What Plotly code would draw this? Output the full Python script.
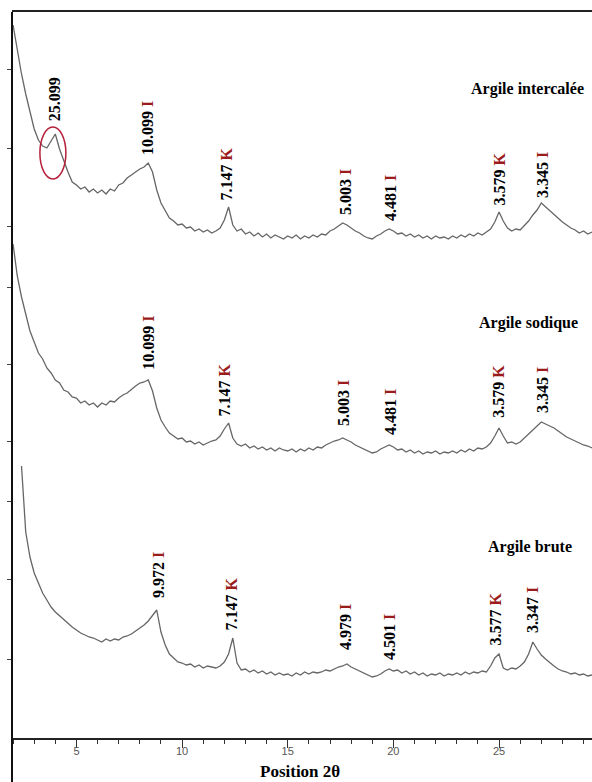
import plotly.graph_objects as go

# 2-theta sampling positions (degrees)
TWO_THETA = [
    2.0, 2.2, 2.4, 2.6, 2.8, 3.0, 3.2, 3.4, 3.6, 3.8, 4.0, 4.2, 4.4, 4.6, 4.8,
    5.0, 5.2, 5.4, 5.6, 5.8, 6.0, 6.2, 6.4, 6.6, 6.8, 7.0, 7.2, 7.4, 7.6, 7.8,
    8.0, 8.2, 8.4, 8.6, 8.8, 9.0, 9.2, 9.4, 9.6, 9.8, 10.0, 10.2, 10.4, 10.6, 10.8,
    11.0, 11.2, 11.4, 11.6, 11.8, 12.0, 12.2, 12.4, 12.6, 12.8, 13.0, 13.2, 13.4, 13.6, 13.8,
    14.0, 14.2, 14.4, 14.6, 14.8, 15.0, 15.2, 15.4, 15.6, 15.8, 16.0, 16.2, 16.4, 16.6, 16.8,
    17.0, 17.2, 17.4, 17.6, 17.8, 18.0, 18.2, 18.4, 18.6, 18.8, 19.0, 19.2, 19.4, 19.6, 19.8,
    20.0, 20.2, 20.4, 20.6, 20.8, 21.0, 21.2, 21.4, 21.6, 21.8, 22.0, 22.2, 22.4, 22.6, 22.8,
    23.0, 23.2, 23.4, 23.6, 23.8, 24.0, 24.2, 24.4, 24.6, 24.8, 25.0, 25.2, 25.4, 25.6, 25.8,
    26.0, 26.2, 26.4, 26.6, 26.8, 27.0, 27.2, 27.4, 27.6, 27.8, 28.0, 28.2, 28.4, 28.6, 28.8,
    29.0, 29.2, 29.4,
]

# intensities (arbitrary, stacked offsets)
INTERCALEE = [
    713, 688, 664, 644, 625,
    609, 598, 592, 590, 597,
    604, 589, 577, 566, 556,
    553, 549, 551, 546, 549,
    545, 548, 544, 549, 547,
    553, 555, 560, 563, 566,
    569, 571, 575, 566, 548,
    535, 527, 520, 517, 513,
    514, 510, 511, 507, 509,
    506, 508, 505, 507, 510,
    518, 531, 513, 507, 509,
    504, 506, 502, 505, 501,
    504, 500, 503, 501, 499,
    502, 500, 503, 499, 502,
    500, 503, 501, 504, 503,
    507, 509, 512, 515, 513,
    510, 507, 505, 502, 500,
    499, 502, 504, 507, 509,
    507, 504, 505, 502, 504,
    501, 503, 500, 502, 499,
    502, 500, 501, 499, 502,
    500, 503, 501, 504, 502,
    505, 503, 506, 509, 516,
    526, 517, 510, 507, 509,
    508, 512, 517, 523, 528,
    535, 531, 527, 524, 520,
    516, 513, 510, 508, 505,
    507, 504, 506,
]

SODIQUE = [
    494, 462, 441, 423, 407,
    396, 385, 379, 370, 365,
    358, 355, 348, 346, 341,
    340, 335, 337, 333, 335,
    331, 335, 333, 337, 336,
    340, 343, 345, 349, 352,
    355, 356, 358, 347, 330,
    318, 311, 305, 302, 299,
    300, 296, 297, 294, 296,
    293, 295, 297, 298, 302,
    309, 315, 300, 294, 292,
    294, 290, 292, 289, 291,
    288, 290, 287, 290, 288,
    287, 289, 286, 289, 287,
    290, 288, 291, 290, 293,
    295, 297, 298, 300, 298,
    296, 293, 291, 289, 287,
    285, 286, 289, 291, 293,
    291, 288, 289, 286, 288,
    285, 287, 284, 286, 285,
    287, 284, 286, 285, 287,
    285, 288, 286, 289, 287,
    290, 289, 291, 295, 302,
    310, 302, 295, 296, 294,
    296, 300, 305, 309, 313,
    316, 314, 312, 310, 307,
    304, 301, 299, 297, 295,
    293, 292, 290,
]

# raw clay pattern starts at 2.4 deg
BRUTE = [
    272, 206, 181,
    165, 155, 145, 138, 131,
    126, 122, 118, 115, 111,
    108, 105, 103, 101, 100,
    98, 96, 99, 97, 99,
    98, 101, 102, 104, 107,
    110, 113, 117, 122, 128,
    106, 93, 84, 80, 76,
    75, 73, 74, 71, 73,
    70, 72, 71, 70, 72,
    76, 84, 100, 75, 68,
    69, 66, 68, 65, 67,
    64, 66, 63, 65, 63,
    64, 62, 65, 63, 66,
    64, 66, 65, 66, 68,
    67, 69, 71, 72, 74,
    71, 69, 67, 65, 63,
    61, 62, 64, 67, 69,
    67, 68, 65, 67, 64,
    66, 63, 65, 62, 64,
    63, 65, 62, 64, 63,
    65, 63, 66, 64, 66,
    65, 67, 66, 72, 80,
    84, 70, 68, 70, 69,
    72, 76, 84, 96, 89,
    83, 79, 75, 72, 69,
    67, 66, 64, 65, 63,
    64, 62, 63,
]
BRUTE_START = 2

# peak labels: d-spacing (Å), phase (I = illite, K = kaolinite), position, label base
TOP_D = ["25.099", "10.099", "7.147", "5.003", "4.481", "3.579", "3.345"]
TOP_PHASE = ["", "I", "K", "I", "I", "K", "I"]
TOP_X = [3.95, 8.34, 12.12, 17.71, 19.84, 25.04, 27.03]
TOP_Y = [615, 581, 536, 521, 515, 531, 538]

MID_D = ["10.099", "7.147", "5.003", "4.481", "3.579", "3.345"]
MID_PHASE = ["I", "K", "I", "I", "K", "I"]
MID_X = [8.38, 12.03, 17.62, 19.84, 24.96, 27.03]
MID_Y = [366, 320, 310, 301, 318, 323]

BOT_D = ["9.972", "7.147", "4.979", "4.501", "3.577", "3.347"]
BOT_PHASE = ["I", "K", "I", "I", "K", "I"]
BOT_X = [8.86, 12.36, 17.71, 19.79, 24.81, 26.56]
BOT_Y = [138, 106, 86, 76, 90, 103]

SAMPLE_NAMES = ["Argile intercalée", "Argile sodique", "Argile brute"]
SAMPLE_X = [26.34, 26.39, 26.48]
SAMPLE_Y = [649, 415, 191]

# highlight ellipse around the 25.099 Å reflection
ELLIPSE_X = [3.27, 4.50]
ELLIPSE_Y = [559, 611]

Y_TICKS = [669, 590, 512, 451, 374, 297, 237, 159, 79]

X_RANGE = [1.95, 29.40]
Y_RANGE = [0, 726]

LINE_COLOR = "#666666"
PHASE_COLOR = "#9B1B1B"
SERIF = "Liberation Serif, Times New Roman, serif"

fig = go.Figure()
for xs, ys in [
    (TWO_THETA, INTERCALEE),
    (TWO_THETA, SODIQUE),
    (TWO_THETA[BRUTE_START:], BRUTE),
]:
    fig.add_trace(go.Scatter(x=xs, y=ys, mode="lines",
                             line=dict(color=LINE_COLOR, width=1.3),
                             hoverinfo="skip", showlegend=False))

annotations = []
for ds, phs, xs, ys in [(TOP_D, TOP_PHASE, TOP_X, TOP_Y),
                        (MID_D, MID_PHASE, MID_X, MID_Y),
                        (BOT_D, BOT_PHASE, BOT_X, BOT_Y)]:
    for d, ph, x, y in zip(ds, phs, xs, ys):
        txt = "<b>" + d + "</b>"
        if ph:
            txt += " <b><span style='color:%s'>%s</span></b>" % (PHASE_COLOR, ph)
        annotations.append(dict(x=x, y=y, xref="x", yref="y", text=txt,
                                showarrow=False, textangle=-90,
                                xanchor="center", yanchor="bottom",
                                font=dict(family=SERIF, size=16, color="black")))

for name, x, y in zip(SAMPLE_NAMES, SAMPLE_X, SAMPLE_Y):
    annotations.append(dict(x=x, y=y, xref="x", yref="y", text="<b>%s</b>" % name,
                            showarrow=False, xanchor="center", yanchor="middle",
                            font=dict(family=SERIF, size=16, color="black")))

annotations.append(dict(x=0.4966, y=-0.0455, xref="paper", yref="paper",
                        text="<b>Position 2θ</b>", showarrow=False,
                        xanchor="center", yanchor="middle",
                        font=dict(family=SERIF, size=17, color="black")))

shapes = [
    dict(type="circle", xref="x", yref="y",
         x0=ELLIPSE_X[0], x1=ELLIPSE_X[1], y0=ELLIPSE_Y[0], y1=ELLIPSE_Y[1],
         line=dict(color="#B5203A", width=1.5)),
    dict(type="line", xref="paper", yref="paper", x0=0, x1=0, y0=-0.07, y1=1,
         line=dict(color="#111111", width=2)),
]

fig.update_layout(
    width=592, height=782,
    margin=dict(l=12, r=0, t=12, b=44),
    paper_bgcolor="white", plot_bgcolor="white",
    showlegend=False,
    annotations=annotations,
    shapes=shapes,
    xaxis=dict(range=X_RANGE, showgrid=False, zeroline=False,
               showline=True, linecolor="#222222", linewidth=1.5, mirror=True,
               ticks="outside", ticklen=8, tickwidth=1, tickcolor="#333333",
               dtick=5, tick0=0,
               minor=dict(dtick=1, ticks="outside", ticklen=4, tickwidth=1,
                          tickcolor="#333333", showgrid=False),
               tickfont=dict(family="Liberation Sans Narrow, Arial Narrow, Liberation Sans, Arial",
                             size=11, color="#555555"),
               ticklabelstandoff=-6),
    yaxis=dict(range=Y_RANGE, showgrid=False, zeroline=False,
               showline=False, ticks="outside", ticklen=4, tickwidth=1,
               tickcolor="#444444", tickvals=Y_TICKS, showticklabels=False),
)

fig.write_html("out.html")
